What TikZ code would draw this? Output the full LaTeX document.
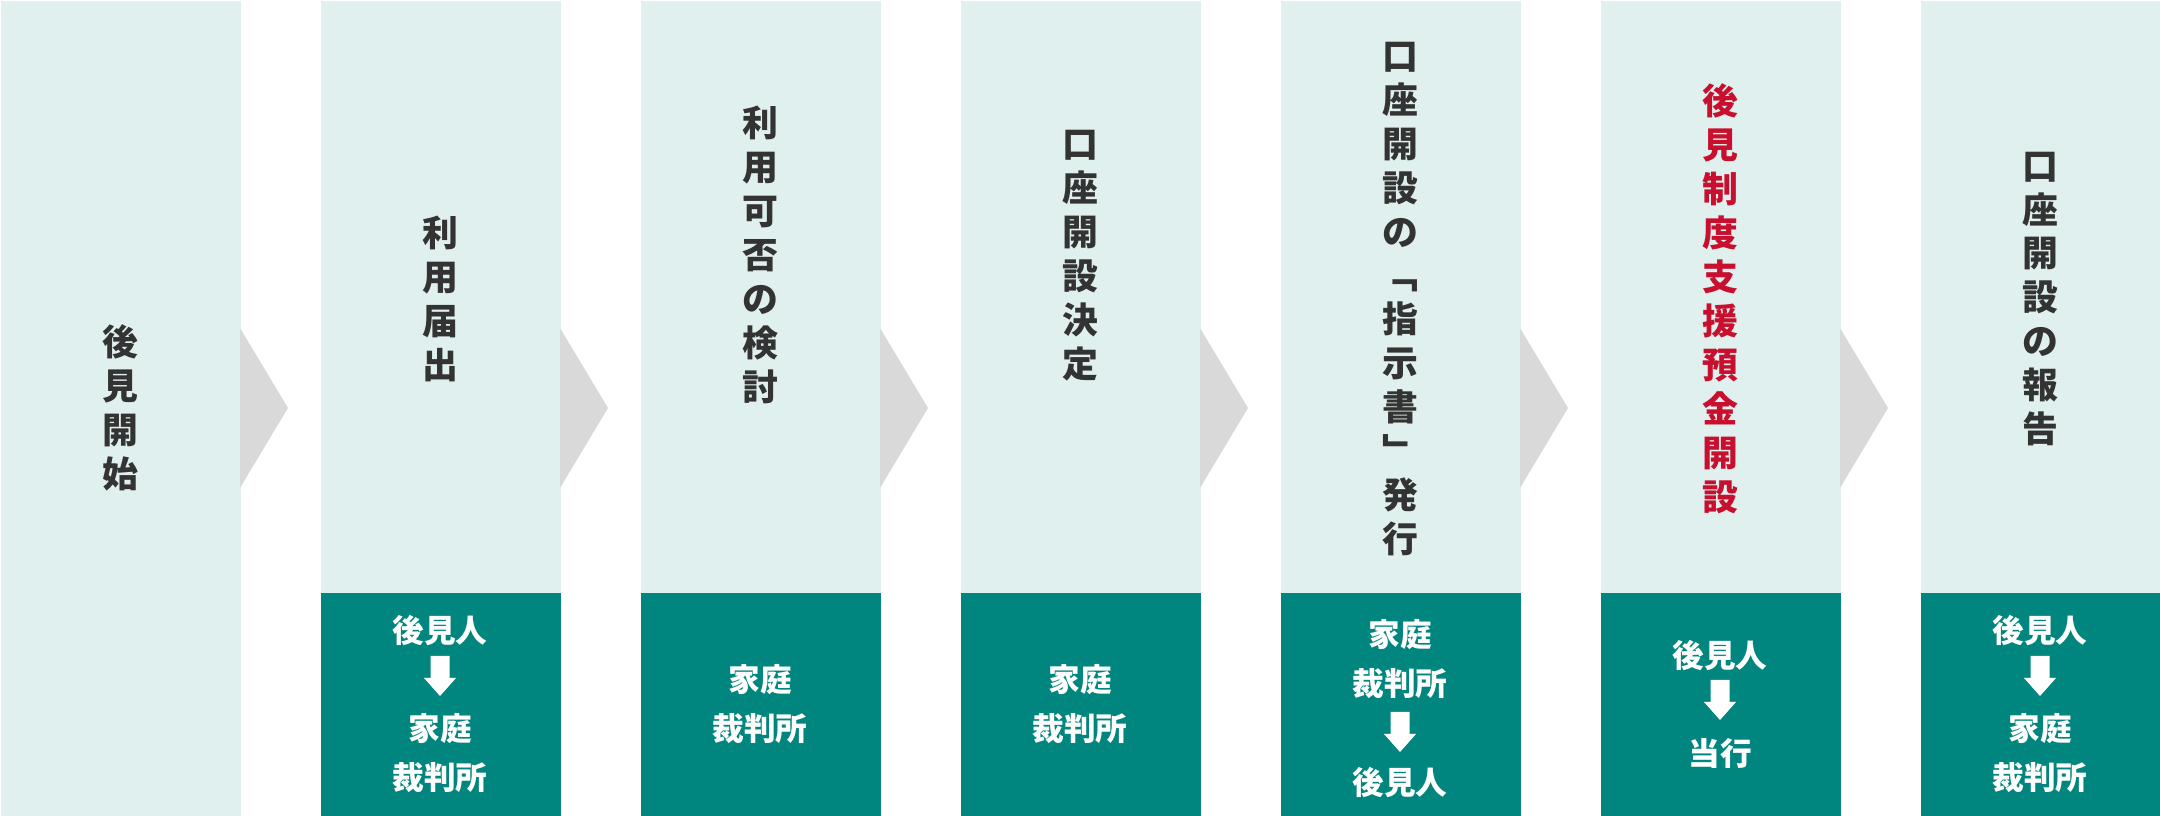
\documentclass[tikz,border=0pt]{standalone}
\usepackage{fontspec}
\setmainfont{Noto Sans CJK JP}
\usepackage{tikz}
\definecolor{panelbg}{HTML}{E0F0EF}
\definecolor{boxteal}{HTML}{00857F}
\definecolor{chevgray}{HTML}{D9D9D9}
\definecolor{ink}{HTML}{333333}
\definecolor{accent}{HTML}{C8102E}

\begin{document}
\begin{tikzpicture}[x=0.01cm, y=-0.01cm,
  panel/.style={fill=panelbg, inner sep=0pt, anchor=north west, minimum width=2.4cm, minimum height=5.92cm},
  agent/.style={fill=boxteal, inner sep=0pt, anchor=north west, minimum width=2.4cm, minimum height=2.24cm},
  stage/.style={text=ink, align=center, inner sep=0pt, font=\bfseries\fontsize{10.2}{12.5}\selectfont},
  who/.style={text=white, align=center, inner sep=0pt, font=\bfseries\fontsize{9}{13.9}\selectfont},
  dnarrow/.pic={\fill[white] (-9.5,0) -- (9.5,0) -- (9.5,22) -- (16,22) -- (0,40) -- (-16,22) -- (-9.5,22) -- cycle;}]
\useasboundingbox (0,0) rectangle (2160,816);

% panels
\node[panel, minimum height=8.16cm] (p1) at (0,0) {};
\node[panel] (p2) at (320,0) {};
\node[panel] (p3) at (640,0) {};
\node[panel] (p4) at (960,0) {};
\node[panel] (p5) at (1280,0) {};
\node[panel] (p6) at (1600,0) {};
\node[panel] (p7) at (1920,0) {};
\foreach \i in {1,...,6}
  \fill[chevgray] ({320*\i-80},328) -- ({320*\i-32},408) -- ({320*\i-80},488) -- cycle;

% steps
\node[stage] (s1) at (120,408) {後\\見\\開\\始};
\node[stage] (s2) at (440,299) {利\\用\\届\\出};
\node[stage] (s3) at (760,255) {利\\用\\可\\否\\の\\検\\討};
\node[stage] (s4) at (1080,256) {口\\座\\開\\設\\決\\定};
\node[stage] (s5) at (1400,299) {口\\座\\開\\設\\の\\﹁\\指\\示\\書\\﹂\\発\\行};
\node[stage, text=accent] (s6) at (1720,299) {後\\見\\制\\度\\支\\援\\預\\金\\開\\設};
\node[stage] (s7) at (2040,299) {口\\座\\開\\設\\の\\報\\告};

% who does it
\node[agent] (a2) at (320,592) {};
\node[agent] (a3) at (640,592) {};
\node[agent] (a4) at (960,592) {};
\node[agent] (a5) at (1280,592) {};
\node[agent] (a6) at (1600,592) {};
\node[agent] (a7) at (1920,592) {};

\node[who] (w2a) at (440,630) {後見人};
\pic at (440,656) {dnarrow};
\node[who] (w2b) at (440,753) {家庭\\裁判所};
\node[who] (w3) at (760,704) {家庭\\裁判所};
\node[who] (w4) at (1080,704) {家庭\\裁判所};
\node[who] (w5a) at (1400,659) {家庭\\裁判所};
\pic at (1400,712) {dnarrow};
\node[who] (w5b) at (1400,782) {後見人};
\node[who] (w6a) at (1720,655) {後見人};
\pic at (1720,680) {dnarrow};
\node[who] (w6b) at (1720,753) {当行};
\node[who] (w7a) at (2040,630) {後見人};
\pic at (2040,656) {dnarrow};
\node[who] (w7b) at (2040,753) {家庭\\裁判所};
\end{tikzpicture}
\end{document}
